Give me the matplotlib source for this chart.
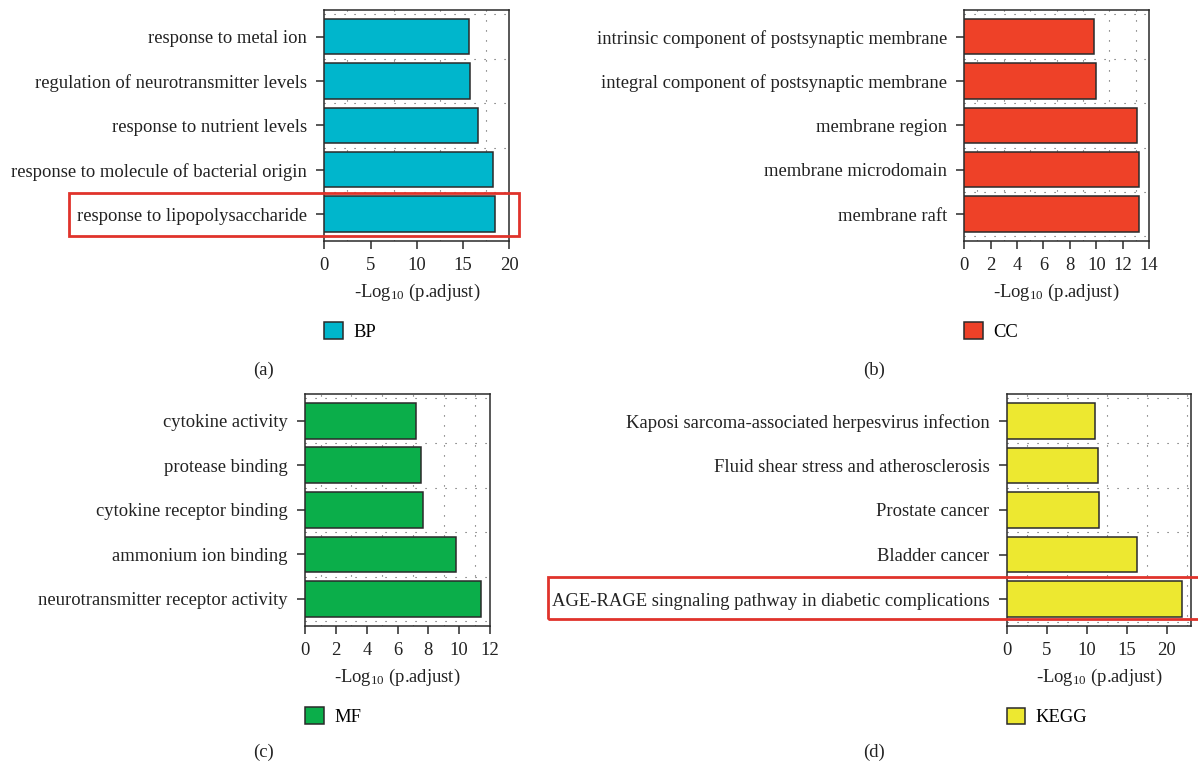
import matplotlib
matplotlib.use("Agg")
import matplotlib.pyplot as plt
from matplotlib.patches import Patch, Rectangle
import numpy as np

plt.rcParams['font.family'] = ['Liberation Serif', 'DejaVu Serif']
plt.rcParams['font.size'] = 13.4
plt.rcParams['mathtext.fontset'] = 'custom'
plt.rcParams['mathtext.rm'] = 'Liberation Serif'
plt.rcParams['mathtext.it'] = 'Liberation Serif:italic'
plt.rcParams['mathtext.bf'] = 'Liberation Serif:bold'

# ---------------- data (top to bottom) ----------------
bp_terms = ["response to metal ion", "regulation of neurotransmitter levels",
            "response to nutrient levels", "response to molecule of bacterial origin",
            "response to lipopolysaccharide"]
bp_values = [15.6, 15.7, 16.6, 18.2, 18.4]

cc_terms = ["intrinsic component of postsynaptic membrane",
            "integral component of postsynaptic membrane",
            "membrane region", "membrane microdomain", "membrane raft"]
cc_values = [9.86, 9.96, 13.1, 13.27, 13.27]

mf_terms = ["cytokine activity", "protease binding", "cytokine receptor binding",
            "ammonium ion binding", "neurotransmitter receptor activity"]
mf_values = [7.2, 7.5, 7.65, 9.77, 11.41]

kegg_terms = ["Kaposi sarcoma-associated herpesvirus infection",
              "Fluid shear stress and atherosclerosis", "Prostate cancer",
              "Bladder cancer", "AGE-RAGE singnaling pathway in diabetic complications"]
kegg_values = [11.1, 11.4, 11.5, 16.25, 21.96]

panels = [
    dict(terms=bp_terms, values=bp_values, color="#00B6CC", name="BP", xmax=20, step=5,
         pos=[324.3, 10, 509.3, 240.7], tag="(a)", tagpos=(263, 370)),
    dict(terms=cc_terms, values=cc_values, color="#EE4128", name="CC", xmax=14, step=2,
         pos=[964.3, 10, 1149.0, 240.7], tag="(b)", tagpos=(874, 370)),
    dict(terms=mf_terms, values=mf_values, color="#0BAE4A", name="MF", xmax=12, step=2,
         pos=[305.3, 394, 490.0, 625.7], tag="(c)", tagpos=(263, 752)),
    dict(terms=kegg_terms, values=kegg_values, color="#EDE830", name="KEGG", xmax=23.05, step=5,
         pos=[1006.7, 394, 1191.0, 626.0], tag="(d)", tagpos=(874, 752)),
]

W, H = 1198, 765
fig = plt.figure(figsize=(W / 100, H / 100), dpi=100)
dark = "#2a2a2a"
txt = "#222222"
fs = 13.4

for p in panels:
    x0, y0, x1, y1 = p["pos"]
    ax = fig.add_axes([x0 / W, (H - y1) / H, (x1 - x0) / W, (y1 - y0) / H])
    n = len(p["terms"])
    ypos = list(range(n - 1, -1, -1))
    ax.barh(ypos, p["values"], height=0.8, color=p["color"], edgecolor=dark,
            linewidth=1.1, zorder=3)
    ax.set_ylim(-0.6, n - 0.4)
    ax.set_xlim(0, p["xmax"])
    ax.set_yticks(ypos)
    ax.set_yticklabels(p["terms"], fontsize=fs, color=txt)
    majors = np.arange(0, p["xmax"] + 0.01, p["step"])
    ax.set_xticks(majors)
    ax.set_xticklabels([f"{int(v)}" for v in majors], fontsize=fs, color=txt)
    ax.set_xticks(np.arange(0, p["xmax"] + 0.01, p["step"] / 2), minor=True)
    ax.set_yticks(np.arange(-0.5, n, 0.5), minor=True)
    ax.tick_params(axis="y", which="major", direction="out", length=5.5, width=1.1,
                   color=dark, pad=7)
    ax.tick_params(axis="x", which="major", direction="out", length=5.5, width=1.1,
                   color=dark, pad=6)
    ax.tick_params(axis="both", which="minor", length=0)
    ax.grid(True, which="minor", color="#555555", linestyle=(0, (1, 8)), linewidth=0.8)
    ax.set_axisbelow(True)
    for s in ax.spines.values():
        s.set_color(dark)
        s.set_linewidth(1.1)
    ax.set_xlabel("-Log$_{10}$ (p.adjust)", fontsize=fs, color=txt, labelpad=6)
    ax.legend(handles=[Patch(facecolor=p["color"], edgecolor=dark, linewidth=1.1,
                             label=p["name"])],
              loc="center left", bbox_to_anchor=(x0 / W, (H - (y1 + 91)) / H),
              bbox_transform=fig.transFigure, frameon=False, fontsize=fs,
              handlelength=1.0, handleheight=1.0, handletextpad=0.55, borderpad=0,
              borderaxespad=0)
    fig.text(p["tagpos"][0] / W, (H - p["tagpos"][1]) / H, p["tag"], ha="center",
             va="center", fontsize=fs, color=txt)

# highlight boxes
red = "#E0332B"
fig.patches.append(Rectangle((69 / W, (H - 236) / H), (519 - 69) / W, (236 - 193) / H,
                             transform=fig.transFigure, fill=False, edgecolor=red,
                             linewidth=2))
fig.patches.append(Rectangle((548 / W, (H - 619) / H), (1210 - 548) / W, (619 - 577) / H,
                             transform=fig.transFigure, fill=False, edgecolor=red,
                             linewidth=2, clip_on=False))

fig.savefig("out.png", dpi=100)
